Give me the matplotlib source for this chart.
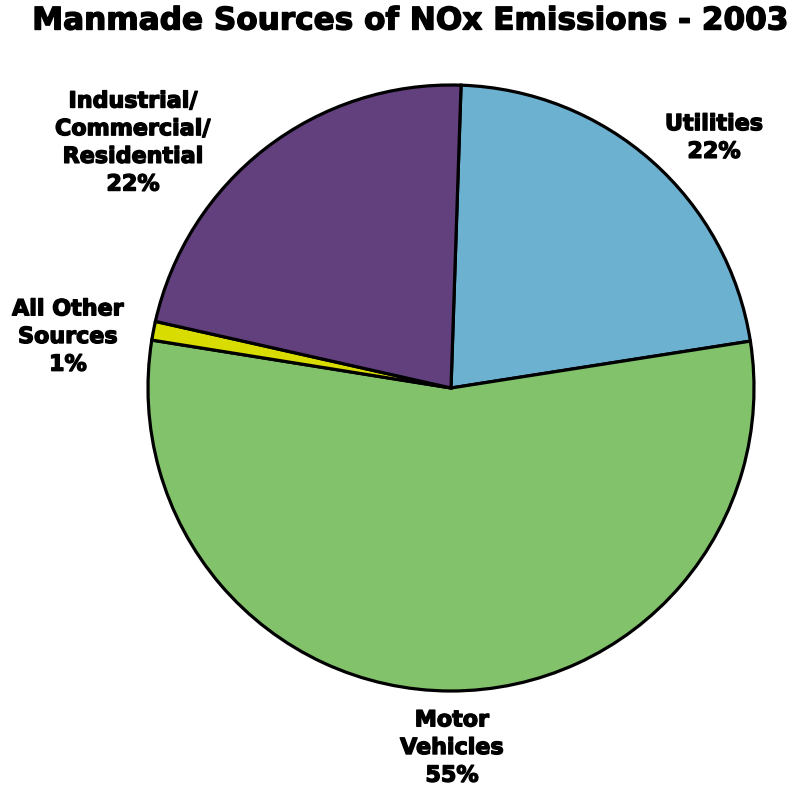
import matplotlib
matplotlib.use("Agg")
import matplotlib.pyplot as plt
import matplotlib.patheffects as pe

# Manmade NOx emission sources, 2003 (percent of total)
categories = ["Utilities", "Motor Vehicles", "All Other Sources", "Industrial/Commercial/Residential"]
shares = [22, 55, 1, 22]
labels = ["Utilities\n22%", "Motor\nVehicles\n55%", "All Other\nSources\n1%",
          "Industrial/\nCommercial/\nResidential\n22%"]
colors = ["#6DB1D0", "#82C26A", "#D8DC00", "#62407E"]

W, H = 791, 788
fig = plt.figure(figsize=(W / 100, H / 100), dpi=100)
ax = fig.add_axes([0, 0, 1, 1])

cx, cy, r = 451, H - 388, 303
ax.pie(shares, colors=colors, startangle=88.1, counterclock=False,
       center=(cx, cy), radius=r, frame=True,
       wedgeprops=dict(edgecolor="black", linewidth=2.3))
ax.set_xlim(0, W)
ax.set_ylim(0, H)
ax.set_aspect("equal")
ax.axis("off")

font = dict(family="DejaVu Sans", weight="bold", color="black")
heavy = [pe.withStroke(linewidth=1.0, foreground="black")]

ax.text(411, H - 21, "Manmade Sources of NOx Emissions - 2003", ha="center", va="center",
        fontsize=22.4, path_effects=heavy, **font)

label_pos = [(714, 138), (452, 748), (68, 337), (133, 143)]
for text, (x, y) in zip(labels, label_pos):
    ax.text(x, H - y, text, ha="center", va="center", fontsize=16,
            linespacing=1.48, path_effects=heavy, **font)

fig.savefig("out.png", dpi=100)
